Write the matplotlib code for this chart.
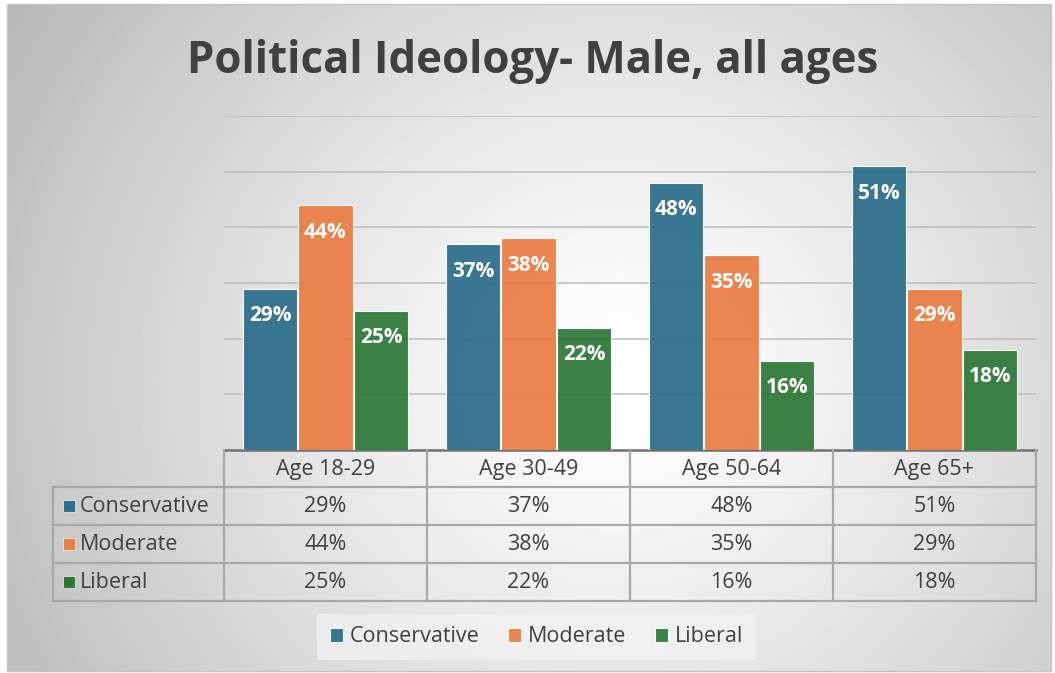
import matplotlib

matplotlib.use("Agg")
import matplotlib.pyplot as plt
import numpy as np
from matplotlib.patches import Rectangle

plt.rcParams.update({"font.family": ["Open Sans", "DejaVu Sans"]})

ages = ["Age 18-29", "Age 30-49", "Age 50-64", "Age 65+"]
series = ["Conservative", "Moderate", "Liberal"]
conservative = [0.29, 0.37, 0.48, 0.51]
moderate = [0.44, 0.38, 0.35, 0.29]
liberal = [0.25, 0.22, 0.16, 0.18]
values = [conservative, moderate, liberal]
colors = ["#2b6d8b", "#ea7d43", "#2d7838"]

W, H = 1055, 673
TXT = "#404040"
LINE = "#a8a8a8"
FS = 15.5

fig = plt.figure(figsize=(W / 100, H / 100), dpi=100)

# full-figure canvas in pixel units: gradient panel, table, row keys
bg = fig.add_axes([0, 0, 1, 1])
bg.set_xlim(0, W); bg.set_ylim(H, 0); bg.axis("off")
yy, xx = np.mgrid[0:667, 0:1044]
d = np.hypot(xx + 7 - 620, (yy + 4 - 380) * 1.05) / 640
shade = np.clip(1.0 - 0.24 * d ** 1.25, 0, 1)
bg.imshow(shade, cmap="gray", vmin=0, vmax=1, extent=(7, 1051, 671, 4),
          interpolation="bilinear", zorder=0, aspect="auto")
bg.add_patch(Rectangle((7, 4), 1044, 667, fill=False, ec="#c4c4c4", lw=1, zorder=1))

fig.text(533 / W, 1 - 73 / H, "Political Ideology- Male, all ages", ha="center",
         va="baseline", fontsize=31.5, fontweight="bold", color=TXT)

# --- bars ----------------------------------------------------------------------
x0, x1, ytop, ybase = 224, 1036, 116, 450
ax = fig.add_axes([x0 / W, 1 - ybase / H, (x1 - x0) / W, (ybase - ytop) / H])
ax.set_facecolor("none")
ax.set_xlim(-0.5, len(ages) - 0.5)
ax.set_ylim(0, 0.6)
ax.set_yticks(np.arange(0.1, 0.61, 0.1))
ax.yaxis.grid(True, color="#bdbdbd", lw=1.1)
ax.set_axisbelow(True)
ax.tick_params(left=False, bottom=False, labelleft=False, labelbottom=False)
for s in ax.spines.values():
    s.set_visible(False)

bw = 0.2735
xs = np.arange(len(ages))
handles = []
for j, (name, vals, c) in enumerate(zip(series, values, colors)):
    bars = ax.bar(xs + (j - 1) * bw, vals, width=bw * 0.985, color=c, alpha=0.93,
                  edgecolor=(1, 1, 1, 0.55), linewidth=0.8, label=name, zorder=2)
    handles.append(bars)
    for b, v in zip(bars, vals):
        # label sits ~27 px below the bar top
        ax.annotate(f"{v:.0%}", (b.get_x() + b.get_width() / 2, v), xytext=(0, -27 * 0.72),
                    textcoords="offset points", ha="center", va="center",
                    fontsize=15, fontweight="bold", color="white", zorder=3)

# --- data table under the bars ---------------------------------------------------
col_edges = np.linspace(x0, x1, len(ages) + 1)
row_edges = [450, 487, 525, 563, 601]
lab_x0 = 53
kw = dict(color=LINE, lw=1.6, zorder=3)
bg.plot([x0, x1], [row_edges[0]] * 2, color="#707070", lw=1.8, zorder=3)
for y in row_edges[1:]:
    bg.plot([lab_x0, x1], [y, y], **kw)
for x in col_edges:
    bg.plot([x, x], [row_edges[0], row_edges[-1]], **kw)
bg.plot([lab_x0, lab_x0], [row_edges[1], row_edges[-1]], **kw)

for i, age in enumerate(ages):
    cx = (col_edges[i] + col_edges[i + 1]) / 2
    bg.text(cx, (row_edges[0] + row_edges[1]) / 2 + 1, age, ha="center", va="center",
            fontsize=FS, color=TXT, zorder=4)
    for j, vals in enumerate(values):
        bg.text(cx, (row_edges[j + 1] + row_edges[j + 2]) / 2 + 1, f"{vals[i]:.0%}",
                ha="center", va="center", fontsize=FS, color=TXT, zorder=4)
for j, (name, c) in enumerate(zip(series, colors)):
    cy = (row_edges[j + 1] + row_edges[j + 2]) / 2
    bg.add_patch(Rectangle((63, cy - 6), 12, 12, fc=c, ec=(1, 1, 1, 0.6), lw=0.8, zorder=4))
    bg.text(80, cy + 1, name, ha="left", va="center", fontsize=FS, color=TXT, zorder=4)

# --- legend ------------------------------------------------------------------------
leg = fig.legend(handles=handles, labels=series, loc="center", ncol=3,
                 bbox_to_anchor=(536.5 / W, 1 - 637 / H), fontsize=FS,
                 handlelength=0.6, handleheight=0.6, handletextpad=0.35,
                 columnspacing=1.3, borderpad=0.6, frameon=True, fancybox=False,
                 facecolor="#f3f3f3", edgecolor="none", framealpha=0.7)
for t in leg.get_texts():
    t.set_color(TXT)

fig.savefig("out.png", dpi=100)
